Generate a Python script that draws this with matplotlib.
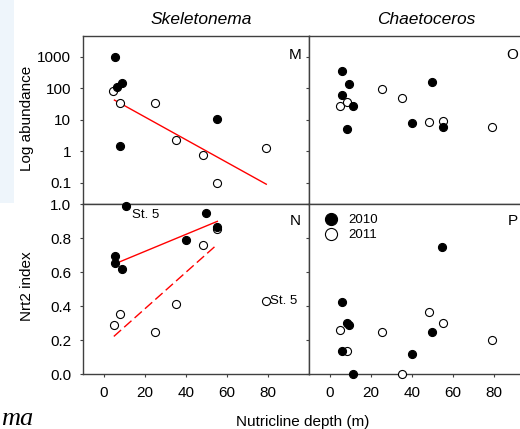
import matplotlib
matplotlib.use('Agg')
import matplotlib.pyplot as plt
from matplotlib.patches import Rectangle

plt.rcParams['font.family'] = ['Liberation Sans', 'DejaVu Sans']

# Skeletonema, log abundance (panel M)
skel_ab_x10 = [5.8, 6.5, 9.0, 8.1, 55.3]
skel_ab_y10 = [1000, 110, 143, 1.46, 10.7]
skel_ab_x11 = [4.8, 8.1, 24.9, 35.2, 48.2, 55.3, 79.2]
skel_ab_y11 = [83, 33, 33, 2.27, 0.74, 0.1, 1.26]
skel_ab_fit_x = [5.3, 79.2]
skel_ab_fit_y = [42, 0.089]

# Skeletonema, Nrt2 index (panel N)
skel_nrt_x10 = [11.0, 5.8, 5.8, 9.0, 40.2, 50.1, 55.3]
skel_nrt_y10 = [0.986, 0.694, 0.655, 0.617, 0.791, 0.947, 0.866]
skel_nrt_x11 = [5.0, 8.1, 25.0, 35.2, 48.2, 55.3, 79.2]
skel_nrt_y11 = [0.29, 0.355, 0.245, 0.412, 0.759, 0.852, 0.43]
skel_fit10_x = [8.1, 55.4]
skel_fit10_y = [0.661, 0.898]
skel_fit11_x = [5.0, 55.4]
skel_fit11_y = [0.221, 0.763]

# Chaetoceros, log abundance (panel O)
chae_ab_x10 = [6.25, 9.3, 6.25, 11.4, 8.4, 40.1, 50.0, 55.0]
chae_ab_y10 = [352, 136, 62, 26.6, 5.1, 8.0, 154, 6.0]
chae_ab_x11 = [5.1, 8.4, 25.3, 35.3, 48.3, 55.0, 79.0]
chae_ab_y11 = [26.6, 37, 92, 50, 8.6, 9.3, 5.9]

# Chaetoceros, Nrt2 index (panel P)
chae_nrt_x10 = [54.5, 6.1, 8.4, 9.3, 6.1, 50.0, 40.1, 11.4]
chae_nrt_y10 = [0.75, 0.424, 0.30, 0.29, 0.138, 0.249, 0.117, 0.0]
chae_nrt_x11 = [5.1, 8.4, 25.3, 35.1, 48.3, 55.0, 79.0]
chae_nrt_y11 = [0.256, 0.134, 0.25, 0.0, 0.365, 0.30, 0.20]

xticks = [0, 20, 40, 60, 80]
log_ticks = [0.1, 1, 10, 100, 1000]
log_labels = ['0.1', '1', '10', '100', '1000']
nrt_ticks = [0.0, 0.2, 0.4, 0.6, 0.8, 1.0]
nrt_labels = ['0.0', '0.2', '0.4', '0.6', '0.8', '1.0']
years = ['2010', '2011']

W, H = 520, 429
fig = plt.figure(figsize=(W / 100, H / 100), dpi=100)

# pale strip on the left edge
fig.patches.append(Rectangle((0, 1 - 203 / H), 14 / W, 203 / H, transform=fig.transFigure,
                             facecolor='#eef5fb', edgecolor='none', zorder=0))


def box(x0, y0, x1, y1):
    return [x0 / W, 1 - y1 / H, (x1 - x0) / W, (y1 - y0) / H]


ax_m = fig.add_axes(box(83, 36, 309, 204))
ax_n = fig.add_axes(box(83, 204, 309, 374))
ax_o = fig.add_axes(box(309, 36, 535, 204))
ax_p = fig.add_axes(box(309, 204, 535, 374))

spine_c = '#404040'
for ax in (ax_m, ax_n, ax_o, ax_p):
    ax.set_xlim(-10, 100)
    ax.set_xticks(xticks)
    for s in ax.spines.values():
        s.set_color(spine_c)
        s.set_linewidth(1.0)
    ax.tick_params(direction='out', length=2.5, width=0.8, color=spine_c,
                   labelsize=11, pad=6)

for ax in (ax_m, ax_o):
    ax.set_yscale('log')
    ax.set_ylim(10 ** -1.68, 10 ** 3.66)
    ax.set_yticks(log_ticks)
    ax.minorticks_off()
for ax in (ax_n, ax_p):
    ax.set_ylim(0, 1.0)
    ax.set_yticks(nrt_ticks)

ax_m.set_yticklabels(log_labels)
ax_n.set_yticklabels(nrt_labels)
ax_o.set_yticklabels([])
ax_p.set_yticklabels([])
ax_m.tick_params(axis='x', length=0, labelbottom=False)
ax_o.tick_params(axis='x', labelbottom=False)
ax_n.set_xticklabels([str(t) for t in xticks])
ax_p.set_xticklabels([str(t) for t in xticks])

ms = 5.8


def pts(ax, x10, y10, x11, y11):
    ax.plot(x11, y11, 'o', ls='none', ms=ms, mfc='white', mec='black', mew=0.8,
            clip_on=False, zorder=3, label=years[1])
    ax.plot(x10, y10, 'o', ls='none', ms=ms, mfc='black', mec='black', mew=0.8,
            clip_on=False, zorder=4, label=years[0])


pts(ax_m, skel_ab_x10, skel_ab_y10, skel_ab_x11, skel_ab_y11)
pts(ax_n, skel_nrt_x10, skel_nrt_y10, skel_nrt_x11, skel_nrt_y11)
pts(ax_o, chae_ab_x10, chae_ab_y10, chae_ab_x11, chae_ab_y11)
pts(ax_p, chae_nrt_x10, chae_nrt_y10, chae_nrt_x11, chae_nrt_y11)

ax_m.plot(skel_ab_fit_x, skel_ab_fit_y, color='red', lw=1.0, zorder=2)
ax_n.plot(skel_fit10_x, skel_fit10_y, color='red', lw=1.0, zorder=2)
ax_n.plot(skel_fit11_x, skel_fit11_y, color='red', lw=1.0, dashes=(7, 3), zorder=2)

ax_n.annotate('St. 5', xy=(skel_nrt_x10[0], skel_nrt_y10[0]), xytext=(4.5, -6.5),
              textcoords='offset points', ha='left', va='center', fontsize=9.5)
ax_n.annotate('St. 5', xy=(skel_nrt_x11[-1], skel_nrt_y11[-1]), xytext=(3, 0),
              textcoords='offset points', ha='left', va='center', fontsize=9.5)

# panel letters
ax_m.text(0.965, 0.887, 'M', transform=ax_m.transAxes, ha='right', va='center', fontsize=11)
ax_n.text(0.965, 0.90, 'N', transform=ax_n.transAxes, ha='right', va='center', fontsize=11)
ax_o.text(0.925, 0.887, 'O', transform=ax_o.transAxes, ha='right', va='center', fontsize=11)
ax_p.text(0.925, 0.90, 'P', transform=ax_p.transAxes, ha='right', va='center', fontsize=11)

h, l = ax_p.get_legend_handles_labels()
ax_p.legend(h[::-1], l[::-1], loc='upper left', bbox_to_anchor=(0.02, 0.995), frameon=False,
            markerscale=1.5, fontsize=9.5, handletextpad=0.75, labelspacing=0.2,
            handlelength=1.2, borderaxespad=0.3)

fig.text(201.5 / W, 1 - 20 / H, 'Skeletonema', style='italic', ha='center', va='center', fontsize=12.5)
fig.text(426.3 / W, 1 - 20 / H, 'Chaetoceros', style='italic', ha='center', va='center', fontsize=12.5)
fig.text(27 / W, 1 - 118 / H, 'Log abundance', rotation=90, ha='center', va='center', fontsize=11)
fig.text(27 / W, 1 - 286.5 / H, 'Nrt2 index', rotation=90, ha='center', va='center', fontsize=11)
fig.text(303 / W, 1 - 421.7 / H, 'Nutricline depth (m)', ha='center', va='center', fontsize=11)
fig.text(1 / W, 4 / H, 'ma', family=['Liberation Serif', 'DejaVu Serif'], style='italic',
         ha='left', va='baseline', fontsize=19)

fig.savefig('out.png', dpi=100)
